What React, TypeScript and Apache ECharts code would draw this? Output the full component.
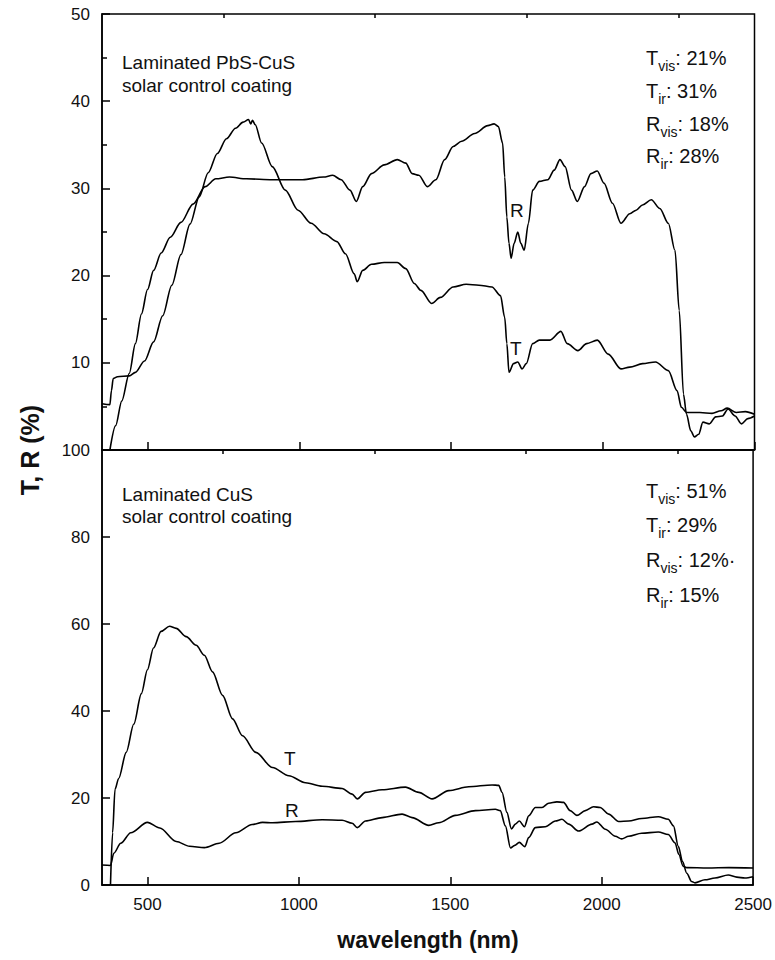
import React, { useEffect, useRef } from "react";
import * as echarts from "echarts";

const xMajorTicks = [500, 1000, 1500, 2000, 2500];
const xMinorTicks = [750, 1250, 1750, 2250];

// Top panel: Laminated PbS-CuS  [wavelength nm, %]
const topR: [number, number][] = [
  [376, 0], [395, 2.8], [415, 5.6], [440, 8.8], [460, 12.2], [480, 15.6], [500, 18.4], [520, 20.6],
  [545, 22.6], [575, 24.4], [610, 26.1], [650, 28.2], [690, 30.2], [725, 31.1], [770, 31.3], [826, 31.1],
  [911, 31.0], [1011, 31.0], [1080, 31.3], [1110, 31.5], [1138, 31.0], [1167, 29.8], [1188, 28.5],
  [1209, 30.2], [1238, 31.7], [1280, 32.7], [1323, 33.3], [1351, 32.9], [1372, 31.7], [1394, 31.5],
  [1422, 30.2], [1450, 31.0], [1479, 33.3], [1507, 34.8], [1535, 35.4], [1578, 36.3], [1621, 37.2],
  [1642, 37.4], [1656, 37.1], [1670, 35.2], [1677, 31.3], [1684, 26.7], [1691, 23.7], [1698, 22.0],
  [1708, 23.7], [1720, 25.0], [1730, 23.7], [1741, 22.9], [1755, 26.0], [1769, 29.8], [1791, 30.8],
  [1819, 31.0], [1840, 32.1], [1859, 33.3], [1876, 32.5], [1897, 29.8], [1916, 28.5], [1940, 30.2],
  [1961, 31.7], [1982, 32.0], [2004, 30.6], [2032, 28.3], [2060, 26.0], [2089, 27.1], [2110, 27.5],
  [2131, 28.1], [2160, 28.7], [2188, 27.7], [2216, 26.0], [2238, 22.9], [2252, 16.0], [2266, 6.4],
  [2276, 4.1], [2290, 2.2], [2302, 1.5], [2316, 1.8], [2330, 3.2], [2351, 3.0], [2372, 3.8], [2394, 3.9],
  [2413, 4.7], [2436, 3.9], [2457, 3.0], [2478, 3.6], [2500, 3.9],
];

const topT: [number, number][] = [
  [350, 5.3], [376, 5.2], [381, 6.8], [387, 8.2], [401, 8.4], [440, 8.5], [460, 8.9], [490, 10.2],
  [520, 12.4], [550, 15.4], [580, 18.9], [610, 22.4], [640, 25.9], [670, 29.0], [700, 31.8], [730, 34.0],
  [760, 35.7], [790, 36.9], [815, 37.6], [833, 37.9], [840, 37.4], [846, 37.8], [855, 37.3], [876, 35.2],
  [911, 32.5], [954, 29.8], [996, 27.5], [1039, 26.0], [1082, 24.8], [1124, 23.9], [1152, 22.5],
  [1181, 20.2], [1191, 19.3], [1209, 20.6], [1238, 21.3], [1280, 21.5], [1323, 21.5], [1351, 20.8],
  [1379, 19.1], [1401, 18.3], [1436, 16.8], [1465, 17.5], [1507, 18.7], [1550, 19.0], [1592, 18.9],
  [1635, 18.7], [1663, 17.7], [1677, 15.2], [1684, 12.2], [1691, 8.9], [1706, 9.9], [1720, 10.1],
  [1734, 9.3], [1748, 9.9], [1769, 12.2], [1791, 12.6], [1826, 12.6], [1862, 13.6], [1883, 12.2],
  [1918, 11.4], [1947, 12.2], [1982, 12.6], [2018, 11.0], [2060, 9.3], [2089, 9.5], [2131, 9.9],
  [2174, 10.1], [2216, 9.1], [2245, 6.8], [2259, 4.9], [2276, 4.3], [2320, 4.3], [2360, 4.2], [2390, 4.5],
  [2410, 4.8], [2440, 4.3], [2470, 4.4], [2500, 4.1],
];

// Bottom panel: Laminated CuS
const botT: [number, number][] = [
  [378, 0], [385, 12], [393, 22.0], [405, 24.5], [430, 30.5], [455, 37.0], [480, 44.0], [500, 49.5],
  [520, 54.5], [545, 58.3], [573, 59.5], [595, 59.0], [628, 57.1], [661, 55.1], [688, 52.8], [715, 49.0],
  [748, 43.6], [781, 38.2], [814, 34.3], [858, 30.5], [913, 27.0], [967, 25.1], [1022, 23.5], [1077, 22.7],
  [1143, 22.2], [1176, 20.9], [1193, 19.8], [1220, 21.3], [1275, 21.9], [1352, 22.5], [1396, 21.3],
  [1440, 19.8], [1495, 21.7], [1561, 22.6], [1638, 23.0], [1660, 22.9], [1671, 21.3], [1687, 16.7],
  [1702, 12.9], [1715, 14.0], [1728, 14.7], [1745, 13.4], [1759, 15.9], [1781, 17.8], [1803, 17.8],
  [1825, 18.8], [1852, 19.1], [1874, 19.0], [1896, 17.1], [1918, 16.0], [1946, 17.1], [1973, 18.0],
  [1995, 17.8], [2023, 16.3], [2056, 14.6], [2089, 14.7], [2132, 15.3], [2187, 15.7], [2220, 15.1],
  [2237, 13.6], [2253, 8.9], [2267, 5.4], [2281, 2.7], [2297, 0.8], [2308, 0.5], [2341, 1.2], [2374, 1.6],
  [2418, 2.3], [2446, 1.8], [2473, 1.6], [2500, 1.9],
];

const botR: [number, number][] = [
  [350, 4.6], [378, 4.5], [389, 7.3], [412, 9.6], [445, 12.0], [500, 14.4], [541, 13.1], [595, 10.0],
  [639, 8.9], [688, 8.6], [737, 9.6], [792, 12.0], [846, 13.9], [880, 14.4], [913, 14.3], [989, 14.6],
  [1077, 15.0], [1143, 14.9], [1176, 14.2], [1193, 13.2], [1220, 14.7], [1275, 15.5], [1341, 16.3],
  [1374, 15.5], [1429, 13.7], [1462, 14.3], [1517, 16.0], [1583, 17.1], [1649, 17.4], [1665, 17.1],
  [1682, 13.6], [1699, 8.5], [1713, 9.1], [1728, 9.8], [1746, 8.8], [1759, 10.9], [1781, 13.2],
  [1814, 13.4], [1847, 14.7], [1869, 15.1], [1891, 14.0], [1924, 12.4], [1968, 14.0], [1984, 14.5],
  [2012, 12.8], [2045, 11.2], [2066, 10.6], [2089, 11.2], [2132, 11.9], [2187, 12.2], [2220, 11.6],
  [2242, 9.7], [2255, 7.0], [2269, 4.3], [2281, 4.0], [2350, 3.9], [2420, 4.0], [2500, 3.9],
];

const topStats = [["T", "vis", ": 21%"], ["T", "ir", ": 31%"], ["R", "vis", ": 18%"], ["R", "ir", ": 28%"]];
const botStats = [["T", "vis", ": 51%"], ["T", "ir", ": 29%"], ["R", "vis", ": 12%\u00b7"], ["R", "ir", ": 15%"]];

const FONT = "'Liberation Sans', Arial, Helvetica, sans-serif";

export default function App() {
  const ref = useRef<HTMLDivElement>(null);
  useEffect(() => {
    if (!ref.current) return;
    const chart = echarts.init(ref.current, null, { renderer: "svg" });
    const L = 102, R = 20.5;
    const black = "#000";
    const mkX = (gridIndex: number, major: boolean, labels: boolean) => ({
      type: "value",
      gridIndex,
      min: 350,
      max: 2500,
      axisLine: { show: major, lineStyle: { color: black, width: 1.5 } },
      axisTick: {
        show: true,
        inside: true,
        length: major ? 8 : 4,
        customValues: major ? xMajorTicks : xMinorTicks,
        lineStyle: { color: black, width: 1.5 },
      },
      axisLabel: {
        show: labels,
        customValues: xMajorTicks,
        fontSize: 17,
        fontFamily: FONT,
        color: "#111",
        margin: 11,
        formatter: (v: number) => String(v),
      },
      splitLine: { show: false },
    });
    const mkY = (gridIndex: number, max: number, interval: number, minor: boolean) => ({
      type: "value",
      gridIndex,
      min: 0,
      max,
      interval,
      axisLine: { show: true, lineStyle: { color: black, width: 1.5 } },
      axisTick: { show: true, inside: true, length: 8, lineStyle: { color: black, width: 1.5 } },
      minorTick: { show: minor, splitNumber: 2, length: 5, lineStyle: { color: black, width: 1.5 } },
      axisLabel: {
        fontSize: 17,
        fontFamily: FONT,
        color: "#111",
        margin: 12,
        formatter: (v: number) => (gridIndex === 0 && v === 0 ? "" : String(v)),
      },
      splitLine: { show: false },
    });
    const line = (data: [number, number][], xi: number, yi: number) => ({
      type: "line",
      xAxisIndex: xi,
      yAxisIndex: yi,
      data,
      showSymbol: false,
      smooth: 0.3,
      smoothMonotone: "x",
      lineStyle: { color: black, width: 1.6 },
      silent: true,
    });
    const stat = (x: number, y: number, s: string[]) => ({
      type: "text",
      x,
      y,
      style: {
        text: `{m|${s[0]}}{s|${s[1]}}{m|${s[2]}}`,
        fill: "#111",
        verticalAlign: "middle",
        rich: {
          m: { fontSize: 20, fontFamily: FONT, lineHeight: 22, padding: [0, 0, 5, 0], verticalAlign: "bottom", fill: "#111" },
          s: { fontSize: 14, fontFamily: FONT, lineHeight: 16, verticalAlign: "bottom", fill: "#111" },
        },
      },
    });
    const txt = (x: number, y: number, t: string, size = 19) => ({
      type: "text",
      x,
      y,
      style: { text: t, fontSize: size, fontFamily: FONT, fill: "#111", align: "left", verticalAlign: "middle" },
    });
    const statY1 = [62, 95, 128, 160];
    const statY2 = [495, 529, 564, 599];
    chart.setOption({
      animation: false,
      grid: [
        { left: L, right: R, top: 14, height: 436, show: true, borderColor: black, borderWidth: 1.5 },
        { left: L, right: R, top: 450, height: 435, show: true, borderColor: black, borderWidth: 1.5 },
      ],
      xAxis: [mkX(0, true, false), mkX(0, false, false), mkX(1, true, true), mkX(1, false, false)],
      yAxis: [mkY(0, 50, 10, true), mkY(1, 100, 20, false)],
      series: [line(topR, 0, 0), line(topT, 0, 0), line(botT, 2, 1), line(botR, 2, 1)],
      graphic: [
        txt(122, 62, "Laminated PbS-CuS"),
        txt(122, 85, "solar control coating"),
        txt(122, 494, "Laminated CuS"),
        txt(122, 516, "solar control coating"),
        ...topStats.map((s, i) => stat(646, statY1[i], s)),
        ...botStats.map((s, i) => stat(646, statY2[i], s)),
        txt(510, 210, "R", 19),
        txt(510, 348, "T", 19),
        txt(284, 758, "T", 19),
        txt(285, 810, "R", 19),
        {
          type: "text",
          x: 428,
          y: 940,
          style: { text: "wavelength (nm)", fontSize: 23, fontWeight: "bold", fontFamily: FONT, fill: "#111", align: "center", verticalAlign: "middle" },
        },
        {
          type: "text",
          x: 30,
          y: 450,
          rotation: Math.PI / 2,
          style: { text: "T, R (%)", fontSize: 25, fontWeight: "bold", fontFamily: FONT, fill: "#111", align: "center", verticalAlign: "middle" },
        },
      ],
    });
    return () => chart.dispose();
  }, []);
  return <div ref={ref} style={{ position: "fixed", left: 0, top: 0, width: 775, height: 960, background: "#fff" }} />;
}
